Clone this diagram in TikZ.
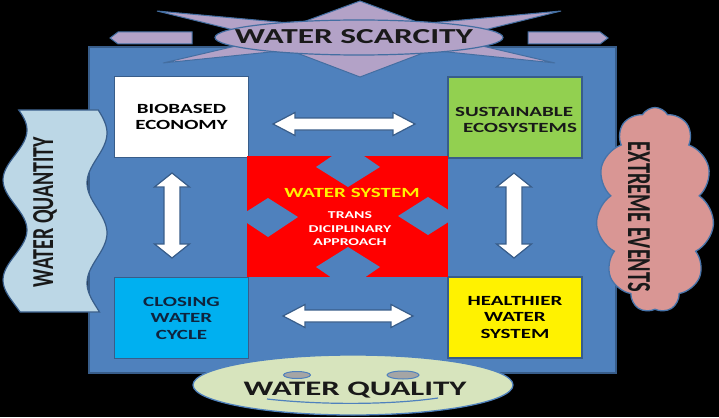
\documentclass[tikz,border=0pt]{standalone}
\usepackage{fontspec}
\setmainfont{Carlito}
\newfontfamily\wide[FakeStretch=1.5]{Carlito}
\usetikzlibrary{shapes.symbols,shapes.geometric,calc}
\definecolor{bgblue}{HTML}{4F81BD}
\definecolor{edgeblue}{HTML}{385D8A}
\definecolor{lav}{HTML}{B3A2C7}
\definecolor{paleblue}{HTML}{BCD7E6}
\definecolor{salmon}{HTML}{D99694}
\definecolor{palegreen}{HTML}{D7E4BD}
\definecolor{boxgreen}{HTML}{92D050}
\definecolor{boxcyan}{HTML}{00B0F0}
\definecolor{eyegray}{HTML}{A5A5A5}
\definecolor{navytext}{HTML}{0F243E}
\tikzset{
  boxstyle/.style={draw=edgeblue, line width=1.3, minimum width=134, minimum height=81, inner sep=0, align=center, font=\wide\bfseries\fontsize{14}{16.5}\selectfont},
  dblarrow/.style={fill=white, draw=edgeblue, line width=1.2},
  raystyle/.style={fill=lav, draw=bgblue!85!black, line width=1},
  diam/.style={fill=bgblue},
  labeltxt/.style={inner sep=0, text=black!90}
}
\newcommand\dbh[2]{\draw[dblarrow] let \p1=(#1),\p2=(#2) in (\p1) -- ++(22pt,11.5pt) -- ++(0,-5.5pt) -- (\x2-22pt,\y1+6pt) -- ++(0,5.5pt) -- (\p2) -- ++(-22pt,-11.5pt) -- ++(0,5.5pt) -- (\x1+22pt,\y1-6pt) -- ++(0,-5.5pt) -- cycle;}
\newcommand\dbv[2]{\draw[dblarrow] let \p1=(#1),\p2=(#2) in (\p1) -- ++(17.5pt,-14pt) -- ++(-9.5pt,0) -- (\x1+8pt,\y2+14pt) -- ++(9.5pt,0) -- (\p2) -- ++(-17.5pt,14pt) -- ++(9.5pt,0) -- (\x1-8pt,\y1-14pt) -- ++(-9.5pt,0) -- cycle;}
\begin{document}
\begin{tikzpicture}[x=1pt,y=-1pt]
\useasboundingbox (0,0) rectangle (719,417);
\fill[black] (0,0) rectangle (719,417);
% main panel
\node[draw=edgeblue, line width=1.5, fill=bgblue, minimum width=527, minimum height=326, inner sep=0] (panel) at (352.5,210) {};
% water scarcity star rays
\draw[raystyle] (360,1) -- (425,25) -- (295,25) -- cycle;
\draw[raystyle] (360,77) -- (289,50) -- (431,50) -- cycle;
\draw[raystyle] (157,11) -- (300,24) -- (250,34) -- cycle;
\draw[raystyle] (561,11) -- (418,24) -- (468,34) -- cycle;
\draw[raystyle] (163,63) -- (240,45) -- (290,50) -- cycle;
\draw[raystyle] (555,63) -- (478,45) -- (428,50) -- cycle;
\draw[raystyle] (110,38) -- (118,32) -- (192,32) -- (192,44) -- (118,44) -- cycle;
\draw[raystyle] (608,38) -- (600,32) -- (528,32) -- (528,44) -- (600,44) -- cycle;
\node[ellipse, fill=lav, draw=bgblue!85!black, line width=1.2, minimum width=288, minimum height=35, inner sep=0] (scar) at (359,37.5) {};
\node[labeltxt, anchor=base] at (354,44) {\resizebox{238pt}{14pt}{\bfseries WATER SCARCITY}};
% water quantity wave banner
\draw[fill=paleblue, draw=edgeblue, line width=1.2] plot[domain=110:312, samples=70, variable=\t] ({97+10*cos(3.6*(\t-133))}, \t) -- plot[domain=312:110, samples=70, variable=\t] ({15-12*cos(3.6*(\t-180))}, \t) -- cycle;
\node[labeltxt, rotate=90] (quan) at (45,212) {\resizebox{150pt}{20pt}{\bfseries WATER QUANTITY}};
% extreme events cloud
\node[cloud, cloud puffs=11, cloud puff arc=120, aspect=0.58, fill=salmon, draw=bgblue!90!black, line width=1.3, minimum width=118, minimum height=205, inner sep=0] (ext) at (655,210) {};
\node[labeltxt, rotate=-90] at (639,217) {\resizebox{150pt}{22pt}{\bfseries EXTREME EVENTS}};
% water quality smiley ellipse
\node[ellipse, fill=palegreen, draw=bgblue, line width=1.3, minimum width=320, minimum height=60, inner sep=0] (qual) at (353,385) {};
\node[ellipse, fill=eyegray, draw=bgblue, line width=1, minimum width=27, minimum height=7, inner sep=0] (eyeL) at (297,375) {};
\node[ellipse, fill=eyegray, draw=bgblue, line width=1, minimum width=32, minimum height=8, inner sep=0] (eyeR) at (403,375) {};
\draw[bgblue, line width=1.2] (267,399) .. controls (320,405) and (390,405) .. (438,398);
\node[labeltxt, anchor=base] at (355,395) {\resizebox{223pt}{13.5pt}{\bfseries WATER QUALITY}};
% four boxes
\node[boxstyle, fill=white] (bio) at (181.5,117) {BIOBASED\\ECONOMY};
\node[boxstyle, fill=boxgreen] (sus) at (515,117.5) {};
\node[labeltxt, align=center, font=\wide\bfseries\fontsize{14}{16.5}\selectfont] at (514,120) {SUSTAINABLE\\\hspace*{12pt}ECOSYSTEMS};
\node[boxstyle, fill=boxcyan, text=navytext] (clo) at (181.5,318) {CLOSING\\WATER\\CYCLE};
\node[boxstyle, fill=yellow] (hea) at (515,317.5) {HEALTHIER\\WATER\\SYSTEM};
% central red box
\node[fill=red, minimum width=201, minimum height=121, inner sep=0] (ws) at (347.5,216.5) {};
\fill[diam] (348,145) -- (380,167) -- (348,187) -- (316,167) -- cycle;
\fill[diam] (348,247) -- (380,267) -- (348,289) -- (316,267) -- cycle;
\fill[diam] (238,217) -- (268,198) -- (298,217) -- (268,237) -- cycle;
\fill[diam] (398,216) -- (428,197) -- (458,216) -- (428,235) -- cycle;
\node[inner sep=0, text=yellow, font=\wide\bfseries\fontsize{14}{16}\selectfont] (wst) at (352,193) {WATER SYSTEM};
\node[inner sep=0, text=white, align=center, font=\wide\bfseries\fontsize{10.5}{13.5}\selectfont] (tda) at (350,229) {TRANS\\DICIPLINARY\\APPROACH};
% double arrows
\coordinate (t1) at (273,124); \coordinate (t2) at (415,124);
\coordinate (b1) at (283,316); \coordinate (b2) at (413,316);
\coordinate (l1) at (172,173); \coordinate (l2) at (172,258);
\coordinate (r1) at (514,173); \coordinate (r2) at (514,258);
\dbh{t1}{t2}
\dbh{b1}{b2}
\dbv{l1}{l2}
\dbv{r1}{r2}
\end{tikzpicture}
\end{document}
